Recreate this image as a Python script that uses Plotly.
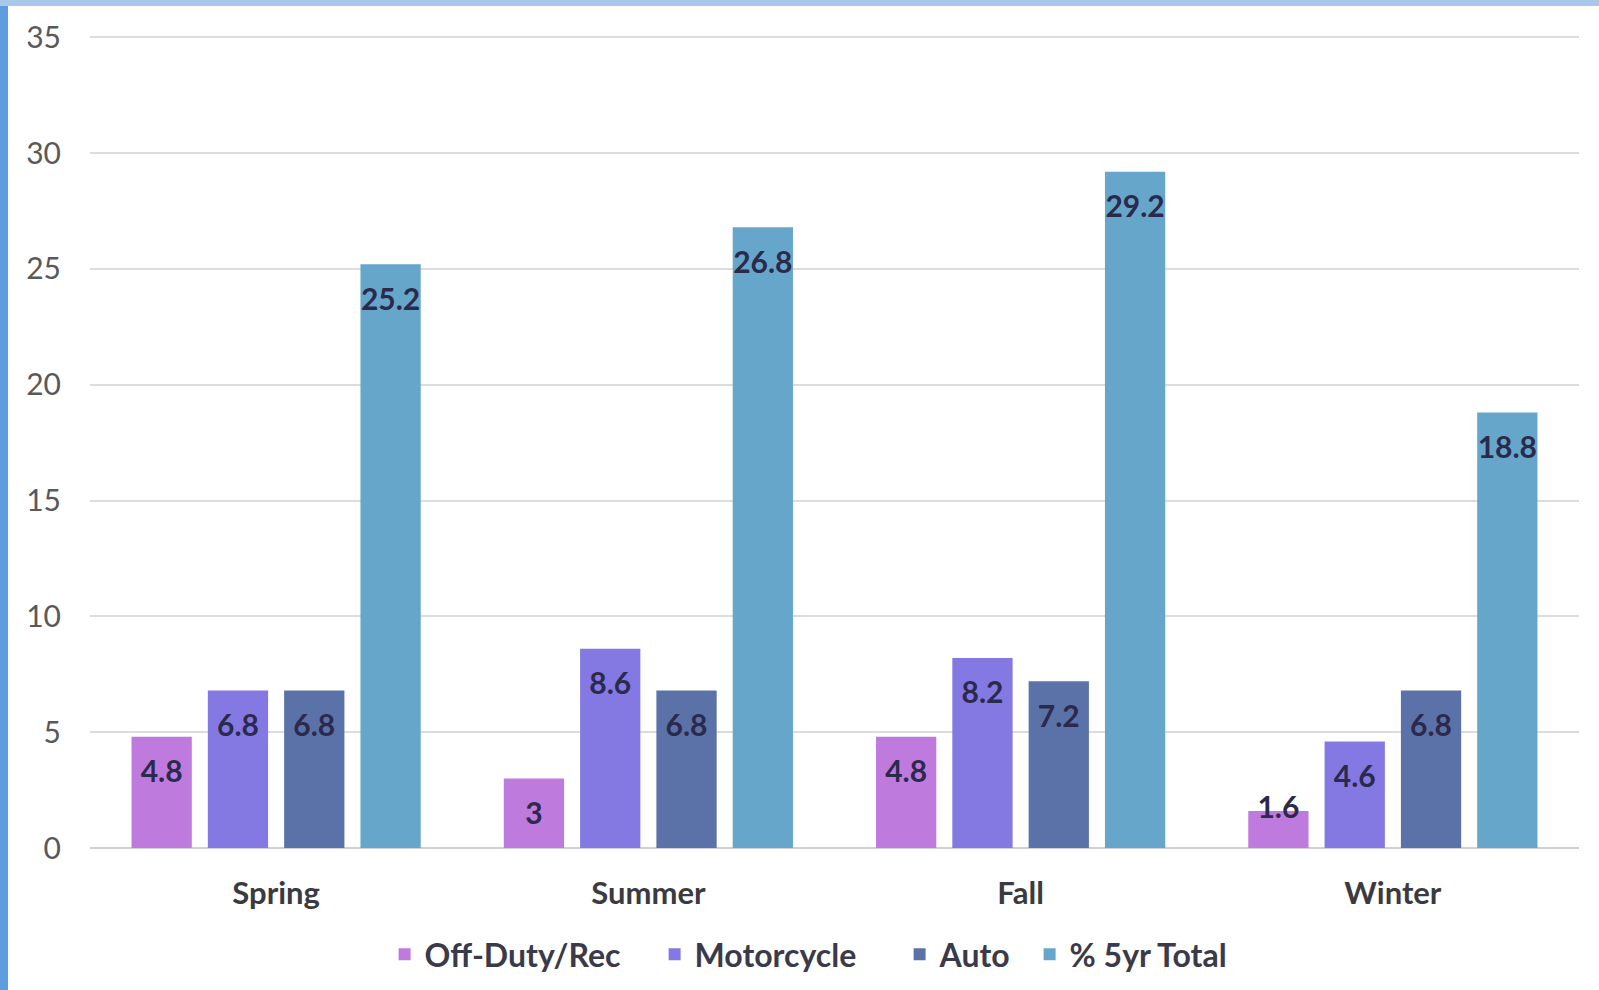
import plotly.graph_objects as go

seasons = ["Spring", "Summer", "Fall", "Winter"]
series_names = ["Off-Duty/Rec", "Motorcycle", "Auto", "% 5yr Total"]
off_duty = [4.8, 3, 4.8, 1.6]
motorcycle = [6.8, 8.6, 8.2, 4.6]
auto = [6.8, 6.8, 7.2, 6.8]
total_5yr = [25.2, 26.8, 29.2, 18.8]
y_ticks = [0, 5, 10, 15, 20, 25, 30, 35]

colors = ["#bf7ade", "#8479e2", "#5b72a9", "#66a6cb"]
legend_widths = [225, 200, 85, 180]
values = [off_duty, motorcycle, auto, total_5yr]

FONT = "Lato"
LABEL_COLOR = "#2b2a4c"
BARGAP = 0.18

fig = go.Figure()
for i, (name, vals, col, lw) in enumerate(zip(series_names, values, colors, legend_widths)):
    fig.add_trace(go.Bar(
        x=seasons, y=vals, name=name, offsetgroup=str(i),
        marker=dict(color=col, line=dict(width=0)),
        legendwidth=lw,
        hoverinfo="x+y+name",
    ))
for i, vals in enumerate(values):
    fig.add_trace(go.Scatter(
        x=seasons, y=vals, mode="markers+text", offsetgroup=str(i),
        marker=dict(size=35, opacity=0),
        text=[f"{v:g}" for v in vals],
        textposition=["bottom center" if v >= 2.5 else "middle center" for v in vals],
        textfont=dict(family=FONT, size=30, color=LABEL_COLOR, weight="bold"),
        showlegend=False, hoverinfo="skip", cliponaxis=False,
    ))

W, H = 1599, 990
L, R, T, B = 90, 20, 36, 142
pw, ph = W - L - R, H - T - B

shapes = [
    dict(type="rect", xref="paper", yref="paper",
         x0=-L / pw, x1=(8 - L) / pw, y0=-B / ph, y1=1 + T / ph,
         fillcolor="#5d9de0", line=dict(width=0), layer="above"),
    dict(type="rect", xref="paper", yref="paper",
         x0=-L / pw, x1=1 + R / pw, y0=1 + (T - 6) / ph, y1=1 + T / ph,
         fillcolor="#a9c7e8", line=dict(width=0), layer="above"),
]

fig.update_layout(
    width=W, height=H,
    margin=dict(l=L, r=R, t=T, b=B, autoexpand=False),
    paper_bgcolor="white", plot_bgcolor="white",
    barmode="group", bargap=BARGAP, bargroupgap=0.21,
    scattermode="group", scattergap=BARGAP,
    font=dict(family=FONT, color="#595959"),
    showlegend=True,
    legend=dict(orientation="h", x=0.49, xanchor="center", y=-0.131, yanchor="middle",
                font=dict(family=FONT, size=32, color="#3a3a4a", weight="bold"),
                traceorder="normal"),
    xaxis=dict(showgrid=False, showline=False, ticks="", ticklabelstandoff=24,
               tickfont=dict(family=FONT, size=31, color="#3a3a40", weight="bold")),
    yaxis=dict(range=[0, 35.06], tickvals=y_ticks, showgrid=True, gridcolor="#dcdcdc",
               gridwidth=2, zeroline=True, zerolinecolor="#d0d0d0", zerolinewidth=2,
               showline=False, ticks="", ticklabelstandoff=28,
               tickfont=dict(family=FONT, size=30, color="#595959")),
    shapes=shapes,
)

fig.write_html("out.html", config={"displayModeBar": False},
               post_script="document.body.style.margin='0px';document.body.style.overflow='hidden';")
